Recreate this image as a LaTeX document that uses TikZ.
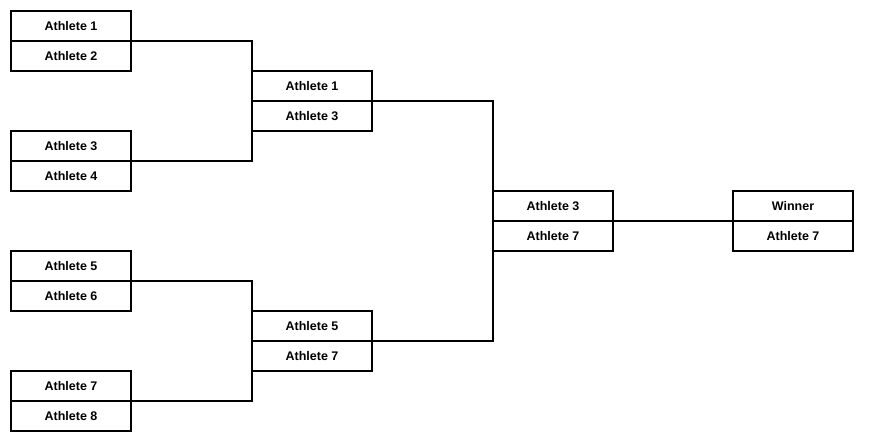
\documentclass[tikz,border=0pt]{standalone}
\usepackage{fontspec}
\setmainfont{Liberation Sans}
\begin{document}
\begin{tikzpicture}[x=1pt,y=-1pt,
  cell/.style={draw,line width=2pt,minimum width=120pt,minimum height=30pt,inner sep=0pt,outer sep=0pt,anchor=north west,font=\fontsize{12.5}{14}\selectfont\bfseries},
  link/.style={line width=2pt}]
\useasboundingbox (0,0) rectangle (878,442);
% Round 1
\node[cell] (a1) at (11,11) {Athlete 1};
\node[cell] (a2) at (11,41) {Athlete 2};
\node[cell] (a3) at (11,131) {Athlete 3};
\node[cell] (a4) at (11,161) {Athlete 4};
\node[cell] (a5) at (11,251) {Athlete 5};
\node[cell] (a6) at (11,281) {Athlete 6};
\node[cell] (a7) at (11,371) {Athlete 7};
\node[cell] (a8) at (11,401) {Athlete 8};
% Round 2
\node[cell] (b1) at (252,71) {Athlete 1};
\node[cell] (b2) at (252,101) {Athlete 3};
\node[cell] (b3) at (252,311) {Athlete 5};
\node[cell] (b4) at (252,341) {Athlete 7};
% Round 3
\node[cell] (c1) at (493,191) {Athlete 3};
\node[cell] (c2) at (493,221) {Athlete 7};
% Winner
\node[cell] (w1) at (733,191) {Winner};
\node[cell] (w2) at (733,221) {Athlete 7};
% Connectors
\draw[link] (a1.south east) -| (b1.west);
\draw[link] (a3.south east) -| (b2.west);
\draw[link] (a5.south east) -| (b3.west);
\draw[link] (a7.south east) -| (b4.west);
\draw[link] (b1.south east) -| (c1.west);
\draw[link] (b3.south east) -| (c2.west);
\draw[link] (c1.south east) -- (w1.south west);
\end{tikzpicture}
\end{document}
